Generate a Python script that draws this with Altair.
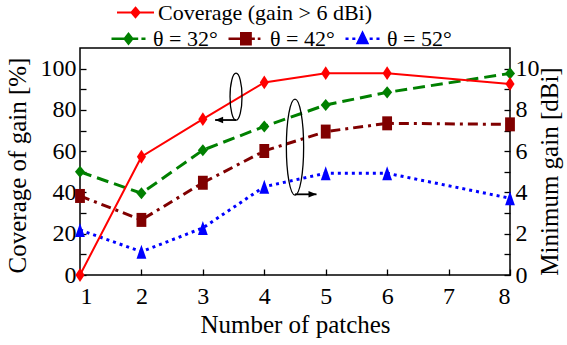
import altair as alt
import pandas as pd

# ---------------- data ----------------
patches = [1, 2, 3, 4, 5, 6, 8]
coverage = [0.0, 57.3, 75.5, 93.3, 97.8, 97.8, 92.6]          # %
gain_32 = [5.00, 3.96, 6.05, 7.20, 8.24, 8.85, 9.77]         # dBi
gain_42 = [3.83, 2.67, 4.47, 6.01, 6.95, 7.35, 7.30]
gain_52 = [2.18, 1.13, 2.28, 4.28, 4.93, 4.93, 3.72]
series_names = ["θ = 32°", "θ = 42°", "θ = 52°"]
cov_name = "Coverage (gain > 6 dBi)"

x_ticks = [1, 2, 3, 4, 5, 6, 7, 8]
left_ticks = [0, 10, 20, 30, 40, 50, 60, 70, 80, 90, 100]
right_ticks = [0, 1, 2, 3, 4, 5, 6, 7, 8, 9, 10]

# annotations (in x units / left-axis % units)
ellipse_x = [3.54, 4.50]
ellipse_y = [86.4, 62.0]
arrow_x = [3.54, 4.50]
arrow_x2 = [3.20, 4.85]
arrow_y = [75.1, 39.1]

# ---------------- styles ----------------
FONT = "Liberation Serif"
RED = "#ff0000"
colors = ["#008000", "#800000", "#0000ff"]
dashes = [[12, 6], [10, 5, 3, 5], [3, 4]]
widths = [3, 3, 2.5]

DIAMOND_RED = "M0,-1L0.66,0L0,1L-0.66,0Z"
DIAMOND_G = "M0,-0.86L0.72,0L0,0.86L-0.72,0Z"
SQUARE = "M-0.7,-1L0.7,-1L0.7,1L-0.7,1Z"
TRIANGLE = "M0,-1L0.7,1L-0.7,1Z"

LEG_COV = "M-1,0L1,0M0,-0.26L0.22,0L0,0.26L-0.22,0Z"
LEG_32 = "M-1,0L-0.22,0M0.22,0L0.57,0M0.76,0L1,0M0,-0.28L0.22,0L0,0.28L-0.22,0Z"
LEG_42 = "M-1,0L-0.25,0M0.35,0L0.55,0M0.72,0L0.88,0M-0.25,-0.33L0.3,-0.33L0.3,0.33L-0.25,0.33Z"
LEG_52 = "M-1,0L-0.82,0M-0.6,0L-0.42,0M0.42,0L0.6,0M0.82,0L1,0M0,-0.33L0.28,0.25L-0.28,0.25Z"


def ellipse_path(a, k=0.5523):
    ka = k * a
    return (f"M0,-1C{ka:.4f},-1 {a:.4f},-{k} {a:.4f},0"
            f"C{a:.4f},{k} {ka:.4f},1 0,1"
            f"C-{ka:.4f},1 -{a:.4f},{k} -{a:.4f},0"
            f"C-{a:.4f},-{k} -{ka:.4f},-1 0,-1Z")


# ---------------- tables ----------------
cov_df = pd.DataFrame({"n": patches, "v": coverage})
gain_df = pd.DataFrame({
    "n": patches * 3,
    "g": gain_32 + gain_42 + gain_52,
    "series": [series_names[0]] * 7 + [series_names[1]] * 7 + [series_names[2]] * 7,
})
ell1_df = pd.DataFrame({"x": ellipse_x[:1], "y": ellipse_y[:1]})
ell2_df = pd.DataFrame({"x": ellipse_x[1:], "y": ellipse_y[1:]})
arrow_df = pd.DataFrame({"x": arrow_x, "x2": arrow_x2, "y": arrow_y})
head1_df = pd.DataFrame({"x": arrow_x2[:1], "y": arrow_y[:1]})
head2_df = pd.DataFrame({"x": arrow_x2[1:], "y": arrow_y[1:]})

PW, PH = 430, 227

axis_common = dict(
    offset=-6, domain=False, tickSize=6, tickColor="black", tickWidth=1.3,
    labelFont=FONT, labelFontSize=24, labelColor="black",
    titleFont=FONT, titleFontSize=25, titleFontWeight="normal", titleColor="black",
    grid=False,
)

x_scale = alt.Scale(domain=[1, 8], nice=False, zero=False)
x_axis = alt.Axis(values=x_ticks, format="d", title="Number of patches",
                  labelPadding=9, titleX=PW / 2, titleY=63, titleAlign="center",
                  titleBaseline="alphabetic", **axis_common)

yl_scale = alt.Scale(domain=[0, 110], nice=False, zero=True)
yl_axis = alt.Axis(values=left_ticks, orient="left",
                   labelExpr="datum.value % 20 == 0 ? datum.label : ''",
                   labelPadding=4, title="Coverage of gain [%]",
                   titleAngle=270, titleX=-69, titleY=117, titleAlign="center",
                   titleBaseline="middle", **axis_common)

yr_scale = alt.Scale(domain=[0, 11], nice=False, zero=True)
yr_axis = alt.Axis(values=right_ticks, orient="right",
                   labelExpr="datum.value % 2 == 0 ? datum.label : ''",
                   labelPadding=5, title="Minimum gain [dBi]",
                   titleAngle=270, titleX=45, titleY=123, titleAlign="center",
                   titleBaseline="middle", **axis_common)

# ---------------- right group (gain) ----------------
color_enc = alt.Color("series:N", scale=alt.Scale(domain=series_names, range=colors), legend=None)
gx = alt.X("n:Q", scale=x_scale, axis=x_axis)
gy = alt.Y("g:Q", scale=yr_scale, axis=yr_axis)

gain_lines = alt.Chart(gain_df).mark_line().encode(
    x=gx, y=gy, color=color_enc,
    strokeDash=alt.StrokeDash("series:N", scale=alt.Scale(domain=series_names, range=dashes), legend=None),
    strokeWidth=alt.StrokeWidth("series:N", scale=alt.Scale(domain=series_names, range=widths), legend=None),
)
gain_pts = alt.Chart(gain_df).mark_point(filled=True, opacity=1, size=196, strokeWidth=1).encode(
    x=gx, y=gy, color=color_enc,
    shape=alt.Shape("series:N", scale=alt.Scale(domain=series_names, range=[DIAMOND_G, SQUARE, TRIANGLE]), legend=None),
)
right_group = alt.layer(gain_lines, gain_pts)

# ---------------- left group (coverage + annotations) ----------------
cx = alt.X("n:Q", scale=x_scale, axis=x_axis)
cy = alt.Y("v:Q", scale=yl_scale, axis=yl_axis)
cov_line = alt.Chart(cov_df).mark_line(color=RED, strokeWidth=2).encode(x=cx, y=cy)
cov_pts = alt.Chart(cov_df).mark_point(filled=True, opacity=1, color=RED, shape=DIAMOND_RED,
                                       size=190, strokeWidth=1).encode(x=cx, y=cy)

ax = alt.X("x:Q", scale=x_scale, axis=x_axis)
ay = alt.Y("y:Q", scale=yl_scale, axis=yl_axis)
ell1 = alt.Chart(ell1_df).mark_point(filled=False, opacity=1, stroke="black", strokeWidth=1.3,
                                     shape=ellipse_path(0.255), size=47 * 47).encode(x=ax, y=ay)
ell2 = alt.Chart(ell2_df).mark_point(filled=False, opacity=1, stroke="black", strokeWidth=1.3,
                                     shape=ellipse_path(0.18), size=96 * 96).encode(x=ax, y=ay)
arrows = alt.Chart(arrow_df).mark_rule(color="black", strokeWidth=1.8).encode(
    x=ax, x2="x2:Q", y=ay)
head1 = alt.Chart(head1_df).mark_point(filled=True, opacity=1, color="black",
                                       shape="M0,0L2,-0.8L2,0.8Z", size=64).encode(x=ax, y=ay)
head2 = alt.Chart(head2_df).mark_point(filled=True, opacity=1, color="black",
                                       shape="M0,0L-2,-0.8L-2,0.8Z", size=64).encode(x=ax, y=ay)
left_group = alt.layer(cov_line, cov_pts, ell1, ell2, arrows, head1, head2)

# ---------------- legends (built from scales only) ----------------
legA_obj = alt.Legend(orient="none", legendX=36, legendY=-55, direction="horizontal", title=None,
                      labelFont=FONT, labelFontSize=22, labelColor="black", labelOffset=3,
                      labelLimit=400, symbolSize=37 * 37, symbolStrokeWidth=2, padding=0)
legA = alt.Chart(pd.DataFrame({"name": [cov_name]})).transform_filter("false").mark_point(
    filled=True, opacity=1, size=37 * 37, strokeWidth=2).encode(
    fill=alt.Fill("name:N", scale=alt.Scale(domain=[cov_name], range=[RED]), legend=legA_obj),
    stroke=alt.Stroke("name:N", scale=alt.Scale(domain=[cov_name], range=[RED]), legend=legA_obj),
    shape=alt.Shape("name:N", scale=alt.Scale(domain=[cov_name], range=[LEG_COV]), legend=legA_obj),
)

legB_obj = alt.Legend(orient="none", legendX=30, legendY=-28, direction="horizontal", title=None,
                      labelFont=FONT, labelFontSize=22, labelColor="black", labelOffset=6,
                      labelLimit=400, columnPadding=5, symbolSize=34 * 34, symbolStrokeWidth=2.5,
                      padding=0)
legB = alt.Chart(pd.DataFrame({"series": series_names})).transform_filter("false").mark_point(
    filled=True, opacity=1, size=34 * 34, strokeWidth=2.5).encode(
    fill=alt.Fill("series:N", scale=alt.Scale(domain=series_names, range=colors), legend=legB_obj),
    stroke=alt.Stroke("series:N", scale=alt.Scale(domain=series_names, range=colors), legend=legB_obj),
    shape=alt.Shape("series:N", scale=alt.Scale(domain=series_names, range=[LEG_32, LEG_42, LEG_52]),
                    legend=legB_obj),
)

chart = alt.layer(right_group, left_group, legA, legB).resolve_scale(
    y="independent", fill="independent", stroke="independent", shape="independent"
).properties(
    width=PW, height=PH,
    autosize=alt.AutoSizeParams(type="none"),
    padding={"left": 80, "top": 48, "right": 57, "bottom": 70},
    background="white",
).configure_view(stroke="black", strokeWidth=1.5)

chart.save("out.html", embed_options={"renderer": "svg", "actions": False})
